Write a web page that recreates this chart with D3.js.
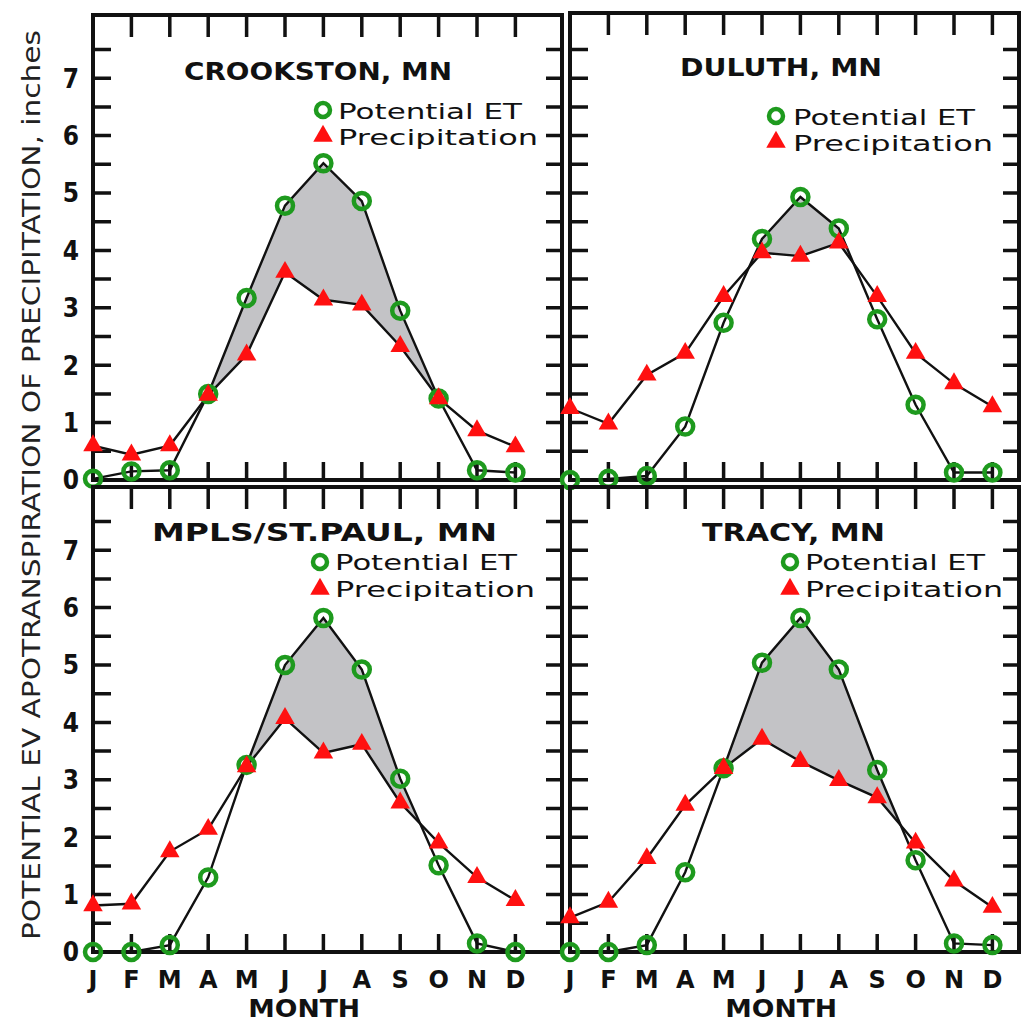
<!DOCTYPE html>
<html>
<head>
<meta charset="utf-8">
<script src="https://cdn.jsdelivr.net/npm/d3@7"></script>
<style>
  body { margin: 0; background: #fff; }
  svg { display: block; }
  .frame { fill: none; stroke: #111; stroke-width: 4; }
  .tickmarks { fill: #111; stroke: none; }
  .series-line { fill: none; stroke: #111; stroke-width: 2.4; }
  .deficit { fill: #c3c3c6; stroke: none; }
  .pet-dot { fill: none; stroke: #1e9a1e; stroke-width: 4.5; }
  .precip-tri { fill: #ff1010; }
  .title { font-family: "DejaVu Sans", sans-serif; font-weight: bold; font-size: 25px; fill: #111; }
  .legend-text { font-family: "DejaVu Sans", sans-serif; font-size: 22px; fill: #111; }
  .ylab { font-family: "Liberation Sans Narrow", "DejaVu Sans Condensed", sans-serif; font-weight: bold; font-size: 26px; fill: #111; }
  .mlab { font-family: "DejaVu Sans", sans-serif; font-weight: bold; font-size: 24px; fill: #111; }
  .axis-title { font-family: "Liberation Sans Narrow", "DejaVu Sans Condensed", sans-serif; font-size: 24px; fill: #222; }
</style>
</head>
<body>
<svg id="chart" width="1021" height="1025"></svg>
<script>
// ---- data (inches per month) ----
const months = ["J", "F", "M", "A", "M", "J", "J", "A", "S", "O", "N", "D"];
const yTickLabels = [0, 1, 2, 3, 4, 5, 6, 7];
const legendLabels = ["Potential ET", "Precipitation"];

const crookstonPet    = [0.02, 0.15, 0.17, 1.50, 3.17, 4.78, 5.52, 4.86, 2.95, 1.42, 0.17, 0.13];
const crookstonPrecip = [0.60, 0.44, 0.60, 1.48, 2.18, 3.62, 3.14, 3.05, 2.33, 1.42, 0.86, 0.58];

const duluthPet    = [0.00, 0.02, 0.07, 0.93, 2.74, 4.20, 4.93, 4.38, 2.80, 1.31, 0.13, 0.13];
const duluthPrecip = [1.25, 0.98, 1.83, 2.21, 3.20, 3.96, 3.90, 4.13, 3.20, 2.21, 1.68, 1.28];

const mplsPet    = [0.00, 0.00, 0.12, 1.30, 3.26, 5.00, 5.82, 4.92, 3.02, 1.51, 0.15, 0.00];
const mplsPrecip = [0.81, 0.84, 1.75, 2.14, 3.23, 4.07, 3.47, 3.62, 2.60, 1.90, 1.30, 0.90];

const tracyPet    = [0.00, 0.00, 0.12, 1.39, 3.20, 5.04, 5.82, 4.92, 3.17, 1.60, 0.15, 0.12];
const tracyPrecip = [0.60, 0.87, 1.63, 2.56, 3.20, 3.71, 3.32, 2.99, 2.69, 1.90, 1.24, 0.78];

// ---- layout ----
const panels = [
  { title: "CROOKSTON, MN", pet: crookstonPet, precip: crookstonPrecip,
    x0: 93, x1: 562, top: 15, zero: 480, labels: true, months: false,
    titleBox: [184, 80, 268], legend: { mx: 323, tx: 338, rows: [110, 136], base: [119, 145], len: [184, 200] } },
  { title: "DULUTH, MN", pet: duluthPet, precip: duluthPrecip,
    x0: 570, x1: 1019, top: 13, zero: 480, labels: false, months: false,
    titleBox: [680, 76, 202], legend: { mx: 776, tx: 793, rows: [116, 142], base: [125, 151], len: [182, 200] } },
  { title: "MPLS/ST.PAUL, MN", pet: mplsPet, precip: mplsPrecip,
    x0: 93, x1: 562, top: 487, zero: 952, labels: true, months: true,
    titleBox: [152, 541, 345], legend: { mx: 320, tx: 335, rows: [562, 589], base: [570, 597], len: [182, 200] } },
  { title: "TRACY, MN", pet: tracyPet, precip: tracyPrecip,
    x0: 570, x1: 1019, top: 487, zero: 952, labels: false, months: true,
    titleBox: [702, 541, 183], legend: { mx: 790, tx: 805, rows: [562, 589], base: [570, 597], len: [180, 198] } }
];

const monthStep = 38.4;
const unitPx = 57.4;

const svg = d3.select("#chart");

const tri = d3.symbol().type(d3.symbolTriangle).size(165);

// points for the shaded deficit (PET above precipitation), with crossings inserted
function deficitPoints(pet, pre) {
  const pts = [];
  for (let i = 0; i < pet.length; i++) {
    pts.push({ m: i, lo: pre[i], hi: Math.max(pet[i], pre[i]) });
    if (i < pet.length - 1) {
      const d0 = pet[i] - pre[i], d1 = pet[i + 1] - pre[i + 1];
      if (d0 * d1 < 0) {
        const t = d0 / (d0 - d1);
        const v = pre[i] + t * (pre[i + 1] - pre[i]);
        pts.push({ m: i + t, lo: v, hi: v });
      }
    }
  }
  return pts;
}

panels.forEach(p => {
  const x = d3.scaleLinear().domain([0, 11]).range([p.x0, p.x0 + 11 * monthStep]);
  const y = d3.scaleLinear().domain([0, 7]).range([p.zero, p.zero - 7 * unitPx]);
  const g = svg.append("g");
  const yt = d3.range(0.5, 8, 0.5);
  const mt = d3.range(1, 12);

  // shaded deficit
  const area = d3.area().x(d => x(d.m)).y0(d => y(d.lo)).y1(d => y(d.hi));
  g.append("path").attr("class", "deficit").attr("d", area(deficitPoints(p.pet, p.precip)));

  // frame
  g.append("rect").attr("class", "frame")
    .attr("x", p.x0).attr("y", p.top)
    .attr("width", p.x1 - p.x0).attr("height", p.zero - p.top);

  // inward tick marks as filled bars in one path
  const tp = d3.path();
  yt.forEach(v => {
    tp.rect(p.x0, y(v) - 1.75, 18, 3.5);
    tp.rect(p.x1 - 16, y(v) - 1.75, 16, 3.5);
  });
  mt.forEach(m => {
    tp.rect(x(m) - 1.75, p.top, 3.5, 22);
    tp.rect(x(m) - 1.75, p.zero - 18, 3.5, 18);
  });
  g.append("path").attr("class", "tickmarks").attr("d", tp.toString());

  // lines
  const line = d3.line().x((d, i) => x(i)).y(d => y(d));
  g.append("path").attr("class", "series-line").attr("d", line(p.precip));
  g.append("path").attr("class", "series-line").attr("d", line(p.pet));

  // markers
  g.append("g").selectAll("circle").data(p.pet).join("circle").attr("class", "pet-dot")
    .attr("cx", (d, i) => x(i)).attr("cy", d => y(d)).attr("r", 8);
  g.append("g").selectAll("path").data(p.precip).join("path").attr("class", "precip-tri")
    .attr("d", tri).attr("transform", (d, i) => `translate(${x(i)},${y(d)})`);

  // title
  g.append("text").attr("class", "title")
    .attr("x", p.titleBox[0]).attr("y", p.titleBox[1])
    .attr("textLength", p.titleBox[2]).attr("lengthAdjust", "spacingAndGlyphs")
    .text(p.title);

  // legend
  const L = p.legend;
  g.append("circle").attr("class", "pet-dot").attr("cx", L.mx).attr("cy", L.rows[0]).attr("r", 7);
  g.append("path").attr("class", "precip-tri").attr("d", tri)
    .attr("transform", `translate(${L.mx},${L.rows[1]})`);
  legendLabels.forEach((lab, i) => {
    g.append("text").attr("class", "legend-text")
      .attr("x", L.tx).attr("y", L.base[i])
      .attr("textLength", L.len[i]).attr("lengthAdjust", "spacingAndGlyphs")
      .text(lab);
  });

  // y labels
  if (p.labels) {
    g.append("g").selectAll("text").data(yTickLabels).join("text").attr("class", "ylab")
      .attr("x", 79).attr("y", d => y(d)).attr("dy", "0.36em")
      .attr("text-anchor", "end").text(d => d);
  }

  // month labels + axis title
  if (p.months) {
    g.append("g").selectAll("text").data(months).join("text").attr("class", "mlab")
      .attr("x", (d, i) => x(i)).attr("y", 988).attr("text-anchor", "middle").text(d => d);
    g.append("text").attr("class", "mlab")
      .attr("x", x(5.5)).attr("y", 1017).attr("text-anchor", "middle")
      .attr("textLength", 112).attr("lengthAdjust", "spacingAndGlyphs")
      .text("MONTH");
  }
});

// shared y title
svg.append("text").attr("class", "axis-title")
  .attr("transform", "translate(40,485) rotate(-90)")
  .attr("text-anchor", "middle")
  .attr("textLength", 910).attr("lengthAdjust", "spacingAndGlyphs")
  .text("POTENTIAL EV APOTRANSPIRATION OF PRECIPITATION, inches");
</script>
</body>
</html>
